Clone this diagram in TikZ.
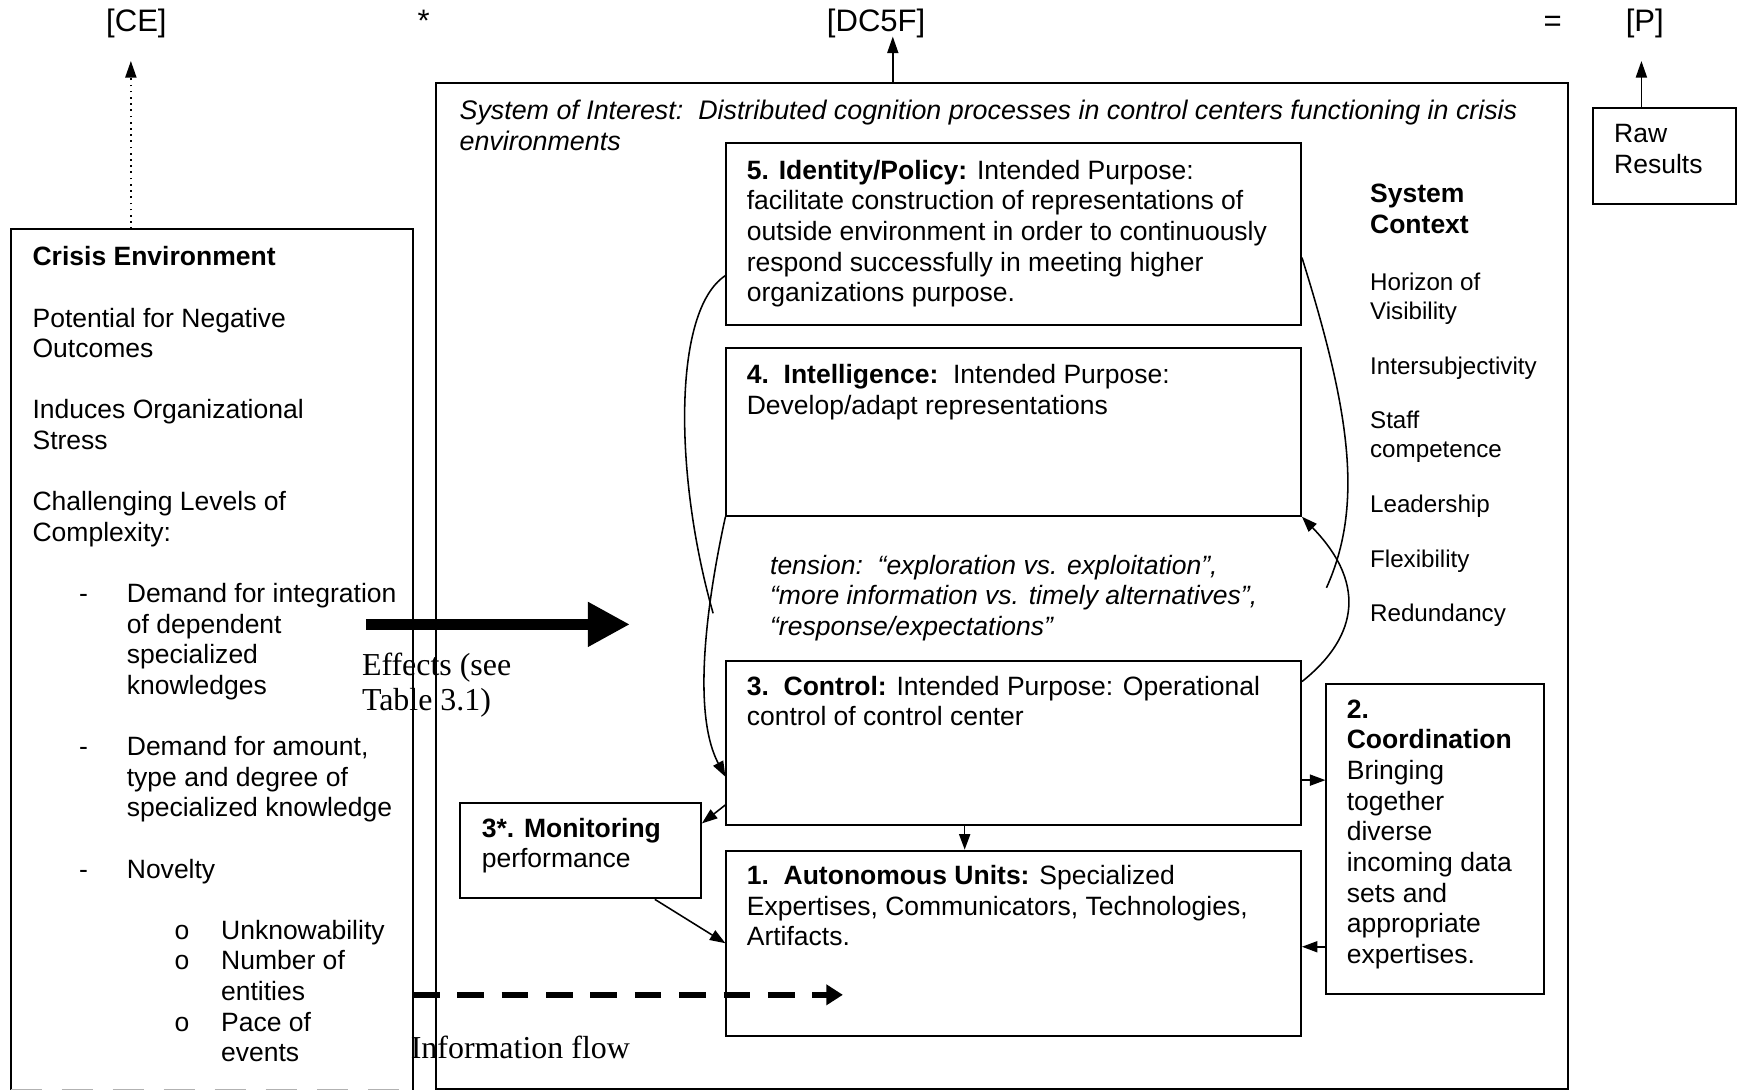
\documentclass[tikz,border=0pt]{standalone}
\usepackage{fontspec}
\setmainfont{Liberation Sans}
\newfontfamily\timesfont{Liberation Serif}
\usetikzlibrary{arrows.meta,calc,fit}

\newcommand\bodyfont{\fontsize{11.95pt}{13.8pt}\selectfont}
\newcommand\titlefont{\fontsize{12.1pt}{13.8pt}\selectfont\itshape}
\newcommand\ctxfont{\fontsize{10.9pt}{12.75pt}\selectfont}
\newcommand\toplabelfont{\fontsize{14pt}{16pt}\selectfont}
\newcommand\notefont{\timesfont\fontsize{14.4pt}{16pt}\selectfont}

\begin{document}
\begin{tikzpicture}[x=0.5pt,y=-0.5pt,
  box/.style={draw, line width=0.9pt, inner sep=0pt},
  txt/.style={anchor=north west, inner sep=0pt, align=left, font=\bodyfont},
  conn/.style={line width=0.7pt, -{Triangle[length=7pt,width=5pt]}},
  plainline/.style={line width=0.7pt},
  uparrow/.style={line width=0.8pt, -{Triangle[length=7.5pt,width=5pt]}},
  toplabel/.style={anchor=base, inner sep=0pt, font=\toplabelfont},
]
\useasboundingbox (0,0) rectangle (1568,984);

% ---------- equation labels along the top ----------
\node[toplabel] (ce)   at (123,28)  {[CE]};
\node[toplabel] (star) at (382,28)  {*};
\node[toplabel] (dc)   at (790,28)  {[DC5F]};
\node[toplabel] (eq)   at (1400,28) {=};
\node[toplabel] (p)    at (1483,28) {[P]};

% ---------- frames ----------
\node[fit={(10,207) (372,982)}, inner sep=0pt] (crisis) {};
\draw[line width=0.9pt] (crisis.south west) -- (crisis.north west)
  -- (crisis.north east) -- (crisis.south east);
\draw[black!30, line width=0.8pt, dash pattern=on 14pt off 9pt]
  (crisis.south west) -- (crisis.south east);

\node[box, fit={(393,75) (1414,982)}] (sys) {};
\node[box, fit={(1436,97) (1565,184)}] (raw) {};

\node[box, fit={(655,129) (1173,293)}] (b5) {};
\node[box, fit={(655,314) (1173,465)}] (b4) {};
\node[box, fit={(655,596) (1173,744)}] (b3) {};
\node[box, fit={(655,767) (1173,934)}] (b1) {};
\node[box, fit={(415,724) (632,810)}]  (mon) {};
\node[box, fit={(1196,617) (1392,896)}] (b2) {};

% ---------- texts ----------
\node[txt] (crisistext) at (29,220) {\strut\textbf{Crisis Environment}\\[13.8pt]
Potential for Negative\\Outcomes\\[13.8pt]
Induces Organizational\\Stress\\[13.8pt]
Challenging Levels of\\Complexity:\\[13.8pt]
\hspace*{21pt}\makebox[21.5pt][l]{-}Demand for integration\\
\hspace*{42.5pt}of dependent\\
\hspace*{42.5pt}specialized\\
\hspace*{42.5pt}knowledges\\[13.8pt]
\hspace*{21pt}\makebox[21.5pt][l]{-}Demand for amount,\\
\hspace*{42.5pt}type and degree of\\
\hspace*{42.5pt}specialized knowledge\\[13.8pt]
\hspace*{21pt}\makebox[21.5pt][l]{-}Novelty\\[13.8pt]
\hspace*{64pt}\makebox[21pt][l]{o}Unknowability\\
\hspace*{64pt}\makebox[21pt][l]{o}Number of\\
\hspace*{85pt}entities\\
\hspace*{64pt}\makebox[21pt][l]{o}Pace of\\
\hspace*{85pt}events};

\node[txt, font=\titlefont] (systitle) at (414,88)
  {\strut System of Interest:\ \ Distributed cognition processes in control centers functioning in crisis\\environments};

\node[txt] (b5text) at (673,142) {\strut\textbf{5. Identity/Policy:} Intended Purpose:\\
facilitate construction of representations of\\
outside environment in order to continuously\\
respond successfully in meeting higher\\
organizations purpose.};

\node[txt] (b4text) at (673,326) {\strut\textbf{4.\ \ Intelligence:}\ \ Intended Purpose:\\
Develop/adapt representations};

\node[txt, font=\bodyfont\itshape] (tension) at (694,498)
  {\strut tension:\ \ “exploration vs. exploitation”,\\
  “more information vs. timely alternatives”,\\
  “response/expectations”};

\node[txt] (b3text) at (673,607) {\strut\textbf{3.\ \ Control:} Intended Purpose: Operational\\
control of control center};

\node[txt] (b1text) at (673,778) {\strut\textbf{1.\ \ Autonomous Units:} Specialized\\
Expertises, Communicators, Technologies,\\
Artifacts.};

\node[txt] (montext) at (434,735) {\strut\textbf{3*. Monitoring}\\performance};

\node[txt] (b2text) at (1214,628) {\strut\textbf{2.}\\\textbf{Coordination}\\Bringing\\together\\diverse\\
incoming data\\sets and\\appropriate\\expertises.};

\node[txt] (ctxhead) at (1235,163) {\strut\textbf{System}\\\textbf{Context}};
\node[txt, font=\ctxfont] (ctxitems) at (1235,244) {\strut Horizon of\\Visibility\\[12pt]
Intersubjectivity\\[12pt]Staff\\competence\\[12pt]Leadership\\[12pt]
Flexibility\\[12pt]Redundancy};

\node[txt] (rawtext) at (1455,109) {\strut Raw\\Results};

\node[txt, font=\notefont] (effects) at (326,586) {\strut Effects (see\\Table 3.1)};
\node[txt, font=\notefont] (infoflow) at (370,932) {\strut Information flow};

% ---------- arrows to the top labels ----------
\coordinate (cetip) at (118,55);
\coordinate (dctip) at (805,33);
\coordinate (ptip)  at (1480,55);
\draw[uparrow, dotted] (crisis.north -| cetip) -- (cetip);
\draw[uparrow] (sys.north -| dctip) -- (dctip);
\draw[uparrow] (raw.north -| ptip) -- (ptip);

% ---------- legend arrows ----------
\coordinate (effstart) at (330,563);
\coordinate (effend)   at (568,563);
\draw[line width=5pt, -{Triangle[length=19pt,width=19pt]}] (effstart) -- (effend);

\coordinate (infoend) at (760,897);
\draw[line width=3pt, dash pattern=on 12pt off 8pt, -{Triangle[length=7.5pt,width=9pt]}]
  (crisis.east |- infoend) -- (infoend);

% ---------- links between the functions ----------
\path ($(b5.north west)!0.726!(b5.south west)$) coordinate (a5w);
\coordinate (a5wend) at (643,553);
\draw[plainline] (a5w) .. controls (606,280) and (608,430) .. (a5wend);

\path ($(b3.north west)!0.703!(b3.south west)$) coordinate (a3w);
\draw[conn] (b4.south west) .. controls (640,530) and (622,640) .. (a3w);

\path ($(b5.north east)!0.628!(b5.south east)$) coordinate (a5e);
\coordinate (a5eend) at (1196,530);
\draw[plainline] (a5e) .. controls (1217,370) and (1230,455) .. (a5eend);

\path ($(b3.north east)!0.13!(b3.south east)$) coordinate (a3e);
\draw[conn] (a3e) .. controls (1220,578) and (1236,530) .. (b4.south east);

\draw[conn] ($(b3.south west)!0.415!(b3.south east)$) -- ($(b1.north west)!0.415!(b1.north east)$);

\path ($(b3.north east)!0.723!(b3.south east)$) coordinate (a32);
\draw[conn] (a32) -- (a32 -| b2.west);

\path ($(b2.north west)!0.846!(b2.south west)$) coordinate (a21);
\draw[conn] (a21) -- (a21 -| b1.east);

\path ($(b3.north west)!0.872!(b3.south west)$) coordinate (a3m);
\path ($(mon.north east)!0.22!(mon.south east)$) coordinate (am3);
\draw[conn] (a3m) -- (am3);

\path ($(mon.south west)!0.806!(mon.south east)$) coordinate (am1);
\path ($(b1.north west)!0.5!(b1.south west)$) coordinate (a1m);
\draw[conn] (am1) -- (a1m);
\end{tikzpicture}
\end{document}
